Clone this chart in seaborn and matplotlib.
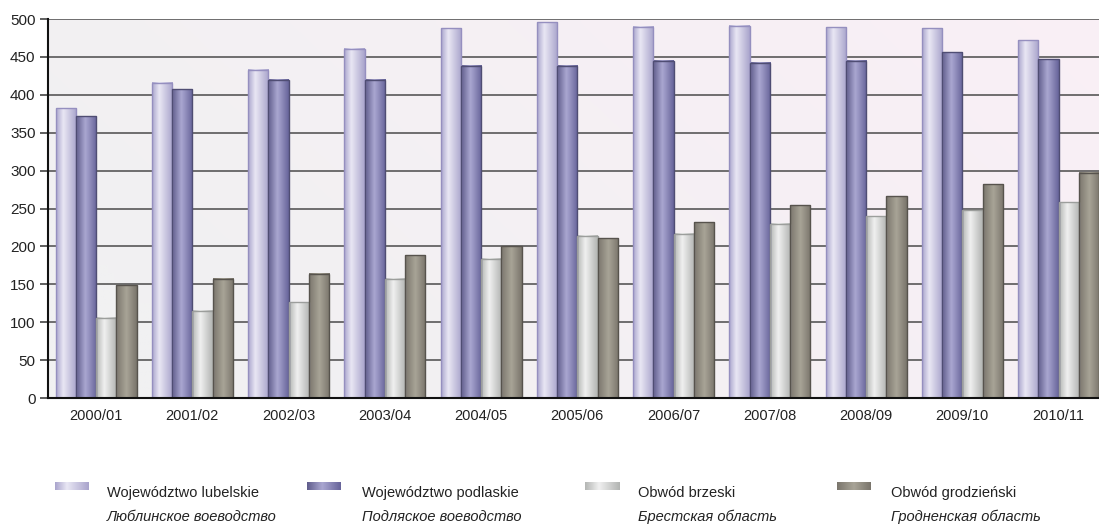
import numpy as np
import pandas as pd
import matplotlib
matplotlib.use("Agg")
import matplotlib.pyplot as plt
import seaborn as sns
from matplotlib.colors import LinearSegmentedColormap
from matplotlib.patches import Rectangle

# ---------------- data ----------------
years = ["2000/01", "2001/02", "2002/03", "2003/04", "2004/05", "2005/06",
         "2006/07", "2007/08", "2008/09", "2009/10", "2010/11"]
lubelskie = [382, 416, 433, 461, 488, 496, 490, 491, 489, 488, 472]
podlaskie = [372, 407, 420, 420, 438, 438, 445, 442, 445, 456, 447]
brzeski = [106, 115, 126, 157, 184, 214, 217, 230, 240, 248, 258]
grodzienski = [149, 157, 164, 188, 200, 211, 232, 254, 266, 282, 297]
series_pl = ["Województwo lubelskie", "Województwo podlaskie",
             "Obwód brzeski", "Obwód grodzieński"]
series_ru = ["Люблинское воеводство", "Подляское воеводство",
             "Брестская область", "Гродненская область"]
y_ticks = [0, 50, 100, 150, 200, 250, 300, 350, 400, 450, 500]

# ---------------- styles ----------------
base_colors = ["#c4c0df", "#8a87b8", "#d4d6d4", "#8f8a80"]
edge_colors = ["#958fbf", "#4f4d73", "#9c9e9c", "#57534d"]
gradients = [
    [(0.0, "#aaa5cd"), (0.35, "#e9e7f4"), (1.0, "#a9a4cc")],
    [(0.0, "#605d8c"), (0.45, "#aaa7d1"), (1.0, "#67649a")],
    [(0.0, "#b4b6b4"), (0.40, "#f0f0f0"), (1.0, "#b2b4b2")],
    [(0.0, "#7b766d"), (0.50, "#a8a497"), (1.0, "#7a756c")],
]

sns.set_theme(style="white")
plt.rcParams["font.family"] = ["Liberation Sans", "DejaVu Sans"]

fig = plt.figure(figsize=(10.99, 5.27), dpi=100)
ax = fig.add_axes([48 / 1099, 129 / 527, 1 - 48 / 1099, (508 - 129) / 527])

df = pd.DataFrame({
    "year": years * 4,
    "series": sum([[s] * len(years) for s in series_pl], []),
    "value": lubelskie + podlaskie + brzeski + grodzienski,
})

sns.barplot(data=df, x="year", y="value", hue="series", hue_order=series_pl,
            order=years, palette=base_colors, width=0.84, gap=0,
            legend=False, ax=ax, saturation=1, err_kws={"linewidth": 0},
            errorbar=None)

xlim = (-0.5, 10.42)
ylim = (0, 500)

# background gradient
bg = np.zeros((50, 200, 3))
c1 = np.array([0xf1, 0xf1, 0xf2]) / 255
c2 = np.array([0xfa, 0xef, 0xf6]) / 255
xx, yy = np.meshgrid(np.linspace(0, 1, 200), np.linspace(0, 1, 50))
t = np.clip(0.8 * xx + 0.3 * (1 - yy) - 0.15, 0, 1)
bg = c1[None, None, :] * (1 - t[..., None]) + c2[None, None, :] * t[..., None]
ax.imshow(bg, extent=[0, 1, 0, 1], transform=ax.transAxes, aspect="auto",
          zorder=0.1, interpolation="bilinear")

# cylinder-like gradient on each bar
for i, cont in enumerate(ax.containers):
    cmap = LinearSegmentedColormap.from_list(f"g{i}", gradients[i])
    grad = np.linspace(0, 1, 64)[None, :]
    for bar in cont:
        x0 = bar.get_x()
        w = bar.get_width()
        h = bar.get_height()
        ax.imshow(grad, cmap=cmap, extent=[x0, x0 + w, 0, h], aspect="auto",
                  zorder=2.2, interpolation="bilinear")
        bar.set_facecolor("none")
        bar.set_edgecolor(edge_colors[i])
        bar.set_linewidth(1.0)
        bar.set_zorder(2.4)

ax.set_xlim(*xlim)
ax.set_ylim(*ylim)
ax.set_yticks(y_ticks)
ax.set_yticklabels([str(v) for v in y_ticks])
ax.set_xlabel("")
ax.set_ylabel("")

ax.set_axisbelow(True)
ax.yaxis.grid(True, color="#4a4a4a", linewidth=1.1)
ax.xaxis.grid(False)

for s in ["top", "right"]:
    ax.spines[s].set_visible(False)
ax.spines["left"].set_color("#111111")
ax.spines["left"].set_linewidth(1.5)
ax.spines["bottom"].set_color("#111111")
ax.spines["bottom"].set_linewidth(1.5)
ax.spines["left"].set_zorder(3)
ax.spines["bottom"].set_zorder(3)

ax.tick_params(axis="y", left=True, length=6, width=1.1, color="#333333",
               pad=3, labelsize=11, labelcolor="#222222")
ax.tick_params(axis="x", bottom=False, length=0, pad=8, labelsize=10.5,
               labelcolor="#222222")

# ---------------- legend ----------------
W, H = 1099, 527
patch_x = [55, 307, 585, 837]
text_x = [107, 362, 638, 891]
for i in range(4):
    cmap = LinearSegmentedColormap.from_list(f"lg{i}", gradients[i])
    lax = fig.add_axes([patch_x[i] / W, 1 - 490 / H, 34 / W, 8 / H])
    lax.imshow(np.linspace(0, 1, 64)[None, :], cmap=cmap, aspect="auto",
               extent=[0, 1, 0, 1], interpolation="bilinear")
    lax.set_xticks([])
    lax.set_yticks([])
    for sp in lax.spines.values():
        sp.set_visible(False)
    fig.text(text_x[i] / W, 1 - 497 / H, series_pl[i], fontsize=10.5,
             color="#222222", va="baseline", ha="left")
    fig.text(text_x[i] / W, 1 - 521 / H, series_ru[i], fontsize=10.5,
             color="#222222", va="baseline", ha="left", style="italic")

fig.savefig("out.png", dpi=100)
